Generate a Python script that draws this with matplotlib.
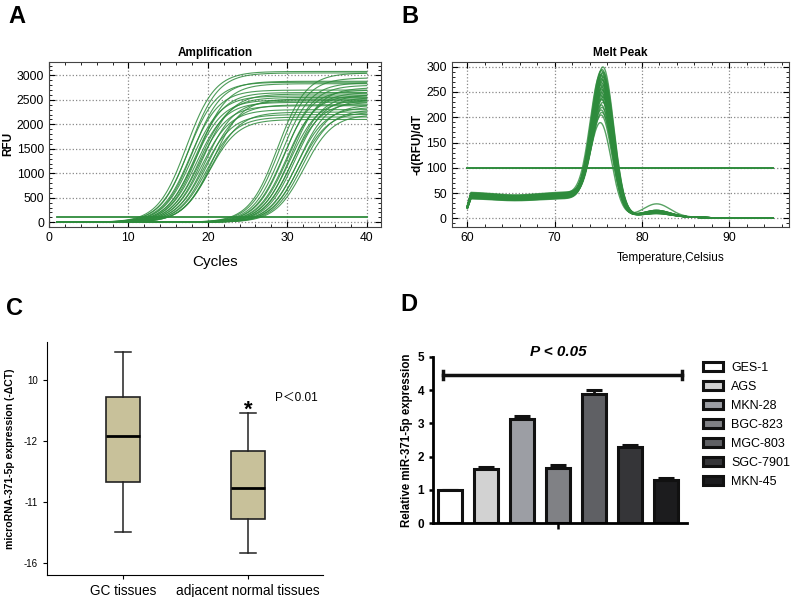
import numpy as np
import matplotlib.pyplot as plt
from matplotlib.ticker import MultipleLocator, AutoMinorLocator
from matplotlib.patches import Patch

plt.rcParams['font.family'] = ['Liberation Sans', 'DejaVu Sans', 'Noto Sans CJK SC']

# ---- A: amplification curves (midpoint cycle, plateau RFU) ----
early_mid = [17.3, 17.5, 17.7, 17.8, 18.0, 18.1, 18.3, 18.4, 18.6, 18.8, 18.9,
             19.0, 19.2, 19.4, 19.5, 19.7, 19.9, 20.0, 20.2, 20.4, 20.6]
early_top = [3080, 2860, 3050, 2700, 2580, 2880, 2500, 2650, 2450, 2830, 2380,
             2550, 2300, 2620, 2200, 2480, 2150, 2400, 2100, 2250, 2520]
late_mid = [28.8, 29.0, 29.3, 29.5, 29.7, 29.9, 30.1, 30.3, 30.5, 30.6, 30.8,
            31.0, 31.2, 31.4, 31.5, 31.7, 31.9, 32.1]
late_top = [3050, 2950, 2850, 2700, 2800, 2600, 2650, 2500, 2750, 2450, 2600,
            2550, 2350, 2500, 2250, 2400, 2300, 2200]
amp_threshold = 100

# ---- B: melt peaks (peak height, baseline level, Tm, secondary bump) ----
melt_h = [295, 290, 288, 285, 282, 280, 278, 275, 272, 270, 268, 265, 262, 260,
          258, 255, 252, 250, 248, 245, 242, 240, 238, 235, 232, 230, 225, 220,
          215, 210, 205, 200, 185]
melt_base = [48, 45, 42, 40, 38, 46, 44, 41, 39, 37, 47, 43, 40, 36, 45, 42,
             39, 44, 41, 38, 46, 40, 37, 43, 39, 45, 41, 36, 42, 38, 44, 40, 35]
melt_tm = [75.6, 75.5, 75.4, 75.6, 75.5, 75.3, 75.5, 75.6, 75.4, 75.5, 75.6,
           75.4, 75.5, 75.3, 75.6, 75.5, 75.4, 75.5, 75.6, 75.4, 75.5, 75.3,
           75.5, 75.6, 75.4, 75.5, 75.6, 75.4, 75.5, 75.4, 75.5, 75.4, 75.3]
melt_bump = [8, 10, 6, 12, 9, 7, 11, 8, 10, 6, 9, 12, 7, 8, 11, 10, 6, 9, 8,
             12, 7, 10, 9, 6, 11, 8, 10, 7, 9, 12, 8, 10, 25]
melt_threshold = 100

# ---- C: box plot (positions on the panel's own scale) ----
box_labels = ['GC tissues', 'adjacent normal tissues']
box_whislo = [0.50, 0.16]
box_q1 = [1.32, 0.71]
box_med = [2.08, 1.23]
box_q3 = [2.72, 1.83]
box_whishi = [3.45, 2.45]
c_tick_labels = ['-16', '-11', '-12', '10']

# ---- D: cell lines ----
cell_lines = ['GES-1', 'AGS', 'MKN-28', 'BGC-823', 'MGC-803', 'SGC-7901', 'MKN-45']
rel_expr = [1.0, 1.62, 3.12, 1.67, 3.87, 2.28, 1.30]
rel_err = [0.0, 0.07, 0.10, 0.08, 0.13, 0.07, 0.05]
bar_colors = ['#ffffff', '#d2d2d2', '#9c9ea4', '#808185', '#5f6064', '#353538', '#1c1c1e']

green = '#2e8b3c'

fig = plt.figure(figsize=(7.95, 5.97), dpi=100)

# ================= A =================
ax1 = fig.add_axes([0.0616, 0.6203, 0.4176, 0.2764])
cyc = np.linspace(1, 40, 300)
for m, top in zip(early_mid + late_mid, early_top + late_top):
    ax1.plot(cyc, top / (1 + np.exp(-(cyc - m) / 1.8)), color=green, lw=0.8, alpha=0.85)
ax1.plot([1, 40], [amp_threshold, amp_threshold], color=green, lw=1.3)
ax1.set_xlim(0, 41.8)
ax1.set_ylim(-90, 3280)
ax1.xaxis.set_major_locator(MultipleLocator(10))
ax1.yaxis.set_major_locator(MultipleLocator(500))
ax1.xaxis.set_minor_locator(AutoMinorLocator(5))
ax1.yaxis.set_minor_locator(AutoMinorLocator(5))
ax1.tick_params(which='both', direction='in', top=True, right=True, labelsize=8.7)
ax1.tick_params(which='major', length=4)
ax1.tick_params(which='minor', length=2)
ax1.grid(True, ls=':', color='#888888', lw=0.9)
ax1.set_title('Amplification', fontsize=8.5, fontweight='bold', pad=4)
ax1.set_ylabel('RFU', fontsize=8.5, fontweight='bold', labelpad=2)
ax1.set_xlabel('Cycles', fontsize=11, labelpad=8)
for s in ax1.spines.values():
    s.set_color('#444444')

# ================= B =================
ax2 = fig.add_axes([0.5682, 0.6203, 0.4243, 0.2764])
T = np.linspace(60, 95, 500)
for h, b, tm, bump in zip(melt_h, melt_base, melt_tm, melt_bump):
    start = 0.5 + 0.5 * np.clip((T - 60) / 0.4, 0, 1)
    base = b * (1 - 0.12 * np.exp(-((T - 65.5) / 3.5) ** 2))
    cut = 1 / (1 + np.exp((T - 76) / 0.8))
    base_tm = b * (1 - 0.12 * np.exp(-((tm - 65.5) / 3.5) ** 2)) / (1 + np.exp((tm - 76) / 0.8))
    y = (base * cut + (h - base_tm) * np.exp(-0.5 * ((T - tm) / 1.2) ** 2)
         + bump * np.exp(-0.5 * ((T - 81.7) / 1.5) ** 2)
         + 4 / (1 + np.exp((T - 86) / 2))) * start
    ax2.plot(T, y, color=green, lw=1.0, alpha=0.8)
ax2.plot([60, 95], [melt_threshold, melt_threshold], color=green, lw=1.4)
ax2.set_xlim(58.2, 96.85)
ax2.set_ylim(-16.6, 310)
ax2.xaxis.set_major_locator(MultipleLocator(10))
ax2.yaxis.set_major_locator(MultipleLocator(50))
ax2.xaxis.set_minor_locator(AutoMinorLocator(5))
ax2.yaxis.set_minor_locator(AutoMinorLocator(5))
ax2.tick_params(which='both', direction='in', top=True, right=True, labelsize=8.7)
ax2.tick_params(which='major', length=4)
ax2.tick_params(which='minor', length=2)
ax2.grid(True, ls=':', color='#888888', lw=0.9)
ax2.set_title('Melt Peak', fontsize=8.5, fontweight='bold', pad=4)
ax2.set_ylabel('-d(RFU)/dT', fontsize=8.5, fontweight='bold', labelpad=2)
ax2.set_xlabel('Temperature,Celsius', fontsize=8.5, x=0.65, labelpad=6)
for s in ax2.spines.values():
    s.set_color('#444444')

# ================= C =================
ax3 = fig.add_axes([0.0587, 0.0369, 0.3476, 0.3908])
stats = []
for lab, lo, q1, med, q3, hi in zip(box_labels, box_whislo, box_q1, box_med, box_q3, box_whishi):
    stats.append(dict(label=lab, whislo=lo, q1=q1, med=med, q3=q3, whishi=hi, fliers=[]))
ax3.bxp(stats, positions=[1, 2], widths=0.27, capwidths=0.13, showfliers=False,
        patch_artist=True,
        boxprops=dict(facecolor='#c8c19a', edgecolor='#222222', lw=1.2),
        medianprops=dict(color='black', lw=2),
        whiskerprops=dict(color='#222222', lw=1.1),
        capprops=dict(color='#222222', lw=1.1))
ax3.set_xlim(0.39, 2.6)
ax3.set_ylim(-0.2, 3.62)
ax3.set_yticks(range(len(c_tick_labels)))
ax3.set_yticklabels(c_tick_labels)
ax3.tick_params(axis='y', labelsize=7, length=3)
ax3.tick_params(axis='x', labelsize=9.8, length=3)
ax3.spines['top'].set_visible(False)
ax3.spines['right'].set_visible(False)
ax3.set_ylabel('microRNA-371-5p expression (-ΔCT)', fontsize=7.6, fontweight='bold', labelpad=6)
ax3.text(2, 2.50, '*', ha='center', va='center', fontsize=16, fontweight='bold')
ax3.text(2.22, 2.70, 'P＜0.01', ha='left', va='center', fontsize=8.5)

# ================= D =================
ax4 = fig.add_axes([0.5447, 0.1235, 0.3195, 0.279])
x = np.arange(len(cell_lines))
ax4.bar(x, rel_expr, width=0.68, color=bar_colors, edgecolor='#111111', linewidth=2.2, zorder=2)
ax4.errorbar(x, rel_expr, yerr=[np.zeros(len(rel_err)), rel_err], fmt='none',
             ecolor='#111111', elinewidth=2, capsize=6, capthick=2.2, zorder=1)
ax4.set_xlim(-0.47, 6.58)
ax4.set_ylim(0, 5)
ax4.set_xticks([3])
ax4.set_xticklabels([''])
ax4.set_yticks(range(6))
ax4.tick_params(axis='y', labelsize=8.5, width=1.8, length=3)
ax4.tick_params(axis='x', width=1.8, length=4)
for lab in ax4.get_yticklabels():
    lab.set_fontweight('bold')
ax4.spines['top'].set_visible(False)
ax4.spines['right'].set_visible(False)
ax4.spines['left'].set_linewidth(2)
ax4.spines['bottom'].set_linewidth(2)
ax4.set_ylabel('Relative miR-371-5p expression', fontsize=8.3, fontweight='bold', labelpad=3)
# significance bar
ax4.plot([-0.2, 6.45], [4.45, 4.45], color='#111111', lw=2.5, clip_on=False)
ax4.plot([-0.2, -0.2], [4.33, 4.57], color='#111111', lw=2.5, clip_on=False)
ax4.plot([6.45, 6.45], [4.33, 4.57], color='#111111', lw=2.5, clip_on=False)
ax4.text(3, 5.15, 'P < 0.05', ha='center', va='center', fontsize=11,
         fontweight='bold', style='italic', clip_on=False)
handles = [Patch(facecolor=c, edgecolor='#111111', linewidth=2.2) for c in bar_colors]
ax4.legend(handles, cell_lines, loc='upper left', bbox_to_anchor=(1.045, 1.0),
           frameon=False, fontsize=9, handlelength=1.6, handleheight=0.8,
           labelspacing=0.55, handletextpad=0.6, borderaxespad=0)

# panel letters
for lx, ly, t in [(0.010, 0.992, 'A'), (0.505, 0.992, 'B'), (0.008, 0.503, 'C'), (0.503, 0.510, 'D')]:
    fig.text(lx, ly, t, fontsize=17, fontweight='bold', va='top', ha='left')

fig.savefig('out.png', dpi=100)
